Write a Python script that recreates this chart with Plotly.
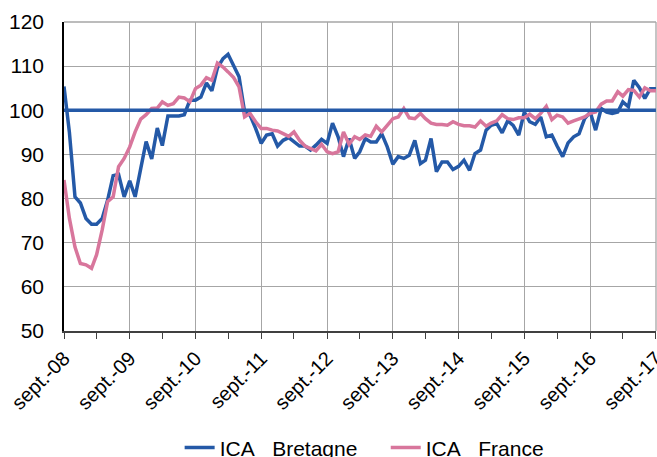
import pandas as pd
import plotly.graph_objects as go

months = pd.date_range("2008-09-01", periods=109, freq="MS")

bretagne = [
    105.4, 95.0, 80.4, 79.0, 75.5, 74.2, 74.2, 75.5, 79.6, 85.2,
    85.5, 80.4, 84.0, 80.4, 86.8, 92.9, 89.0, 96.0, 92.0, 98.7,
    98.7, 98.7, 99.0, 102.3, 102.3, 103.0, 106.2, 104.4, 109.6, 111.7,
    112.7, 110.2, 107.6, 99.6, 98.9, 95.9, 92.5, 94.4, 94.7, 91.9,
    93.2, 93.8, 92.8, 91.9, 91.9, 91.0, 92.1, 93.4, 92.5, 97.1,
    94.0, 89.5, 93.6, 89.1, 90.6, 93.6, 92.8, 92.8, 94.7, 91.7,
    87.8, 89.5, 89.1, 89.8, 93.2, 87.9, 88.7, 93.6, 86.1, 88.3,
    88.3, 86.6, 87.3, 88.7, 86.4, 90.2, 91.0, 95.5, 96.6, 97.0,
    94.9, 97.6, 96.6, 94.4, 99.6, 97.4, 96.8, 98.5, 94.0, 94.4,
    91.9, 89.5, 92.6, 94.0, 94.7, 98.1, 99.6, 95.5, 100.4, 99.6,
    99.3, 99.6, 101.9, 100.8, 106.8, 105.1, 102.7, 104.9, 104.9,
]

france = [
    84.2, 75.5, 69.0, 65.3, 65.0, 64.2, 67.3, 72.9, 79.3, 80.4,
    87.2, 89.1, 91.7, 95.1, 98.0, 99.0, 100.4, 100.5, 101.9, 101.1,
    101.5, 103.0, 102.8, 101.9, 104.9, 105.7, 107.4, 106.8, 110.7, 109.8,
    108.7, 107.4, 105.3, 98.5, 99.3, 97.4, 95.9, 95.9, 95.5, 95.3,
    94.7, 94.1, 95.1, 93.2, 91.9, 91.3, 90.8, 92.3, 90.6, 90.2,
    90.6, 95.1, 92.3, 94.0, 93.4, 94.4, 94.1, 96.4, 95.1, 96.6,
    98.1, 98.5, 100.4, 98.3, 98.1, 99.3, 98.1, 97.1, 96.8, 96.8,
    96.6, 97.4, 96.8, 96.5, 96.5, 96.2, 97.6, 96.4, 97.1, 97.6,
    99.0, 98.1, 97.9, 98.3, 98.3, 99.1, 98.1, 99.3, 100.9, 97.9,
    98.9, 98.5, 97.1, 97.6, 98.1, 98.5, 99.3, 99.6, 101.4, 102.1,
    102.1, 104.2, 103.2, 104.7, 104.5, 103.0, 105.1, 104.4, 104.4,
]

tick_labels = ["sept.-08", "sept.-09", "sept.-10", "sept.-11", "sept.-12",
               "sept.-13", "sept.-14", "sept.-15", "sept.-16", "sept.-17"]
series_names = ["ICA\u00a0\u00a0 Bretagne" + "\u00a0" * 4, "ICA\u00a0\u00a0 France"]
reference_value = 100

BLUE = "#2459a7"
PINK = "#d8769c"
GRID = "#a6a6a6"
FONT = "Arial, Liberation Sans, sans-serif"

major = [months[i] for i in range(0, len(months), 12)]
minor = [months[i] for i in range(0, len(months), 6)]

fig = go.Figure()
fig.add_trace(go.Scatter(x=months, y=bretagne, mode="lines", name=series_names[0],
                         line=dict(color=BLUE, width=3.5)))
fig.add_trace(go.Scatter(x=months, y=france, mode="lines", name=series_names[1],
                         line=dict(color=PINK, width=3.5)))
fig.add_trace(go.Scatter(x=[months[0], months[-1]], y=[reference_value, reference_value],
                         mode="lines", showlegend=False, hoverinfo="skip",
                         line=dict(color=BLUE, width=3.5)))

fig.update_layout(
    width=657, height=457,
    margin=dict(l=64, r=1, t=22, b=126, autoexpand=False),
    paper_bgcolor="white", plot_bgcolor="white",
    font=dict(family=FONT, color="black"),
    showlegend=True,
    legend=dict(orientation="h", x=0.507, xanchor="center",
                y=-0.378, yref="paper", yanchor="middle",
                font=dict(size=21), traceorder="normal"),
)

x_end = months[-1] + pd.Timedelta(hours=6)

fig.update_xaxes(
    range=[months[0], x_end], automargin=False,
    tickvals=major, ticktext=tick_labels, tickangle=-45,
    tickfont=dict(size=20), ticklabeloverflow="allow",
    showgrid=True, gridcolor=GRID, gridwidth=1.3,
    showline=True, linecolor="#404040", linewidth=1.5,
    ticks="outside", ticklen=6, tickcolor="#404040",
    minor=dict(tickvals=minor, ticks="outside", ticklen=6, tickcolor="#404040", showgrid=False),
)
fig.update_yaxes(
    range=[50, 120], dtick=10, tick0=50, automargin=False,
    tickfont=dict(size=21),
    showgrid=True, gridcolor=GRID, gridwidth=1.3,
    showline=True, linecolor="black", linewidth=1.5,
    ticks="", ticklabelstandoff=14,
)

# plot frame (top and right), gray like the grid
fig.add_shape(type="line", xref="paper", yref="paper", x0=0, x1=1, y0=1, y1=1,
              line=dict(color=GRID, width=1.3), layer="below")
fig.add_shape(type="line", xref="paper", yref="paper", x0=1, x1=1, y0=0, y1=1,
              line=dict(color=GRID, width=1.3), layer="below")

fig.write_html(
    "out.html",
    config={"displayModeBar": False},
    post_script="document.body.style.margin='0';document.body.style.overflow='hidden';",
)
